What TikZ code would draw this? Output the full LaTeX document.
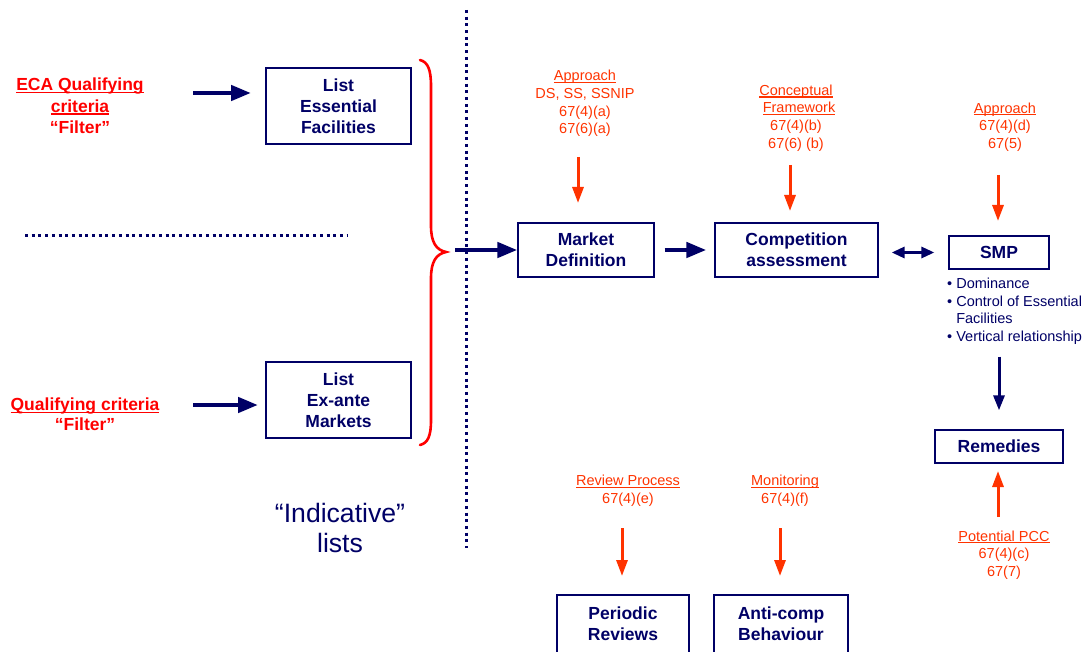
\documentclass[tikz,border=0pt]{standalone}
\usepackage{fontspec}
\setmainfont{Liberation Sans}
\usetikzlibrary{arrows.meta}
\definecolor{navy}{RGB}{0,0,102}
\definecolor{ored}{RGB}{255,51,0}
\definecolor{bred}{RGB}{255,0,0}
\newcommand\myul[1]{\setbox0\hbox{#1}\rlap{\rule[-2.3pt]{\wd0}{1.1pt}}\box0}
\begin{document}
\begin{tikzpicture}[x=1pt,y=-1pt,
  box/.style={draw=navy, line width=1.3pt, fill=white, text=navy, align=center, inner sep=0pt,
    font=\fontsize{17.5}{21}\selectfont\bfseries},
  otxt/.style={text=ored, align=center, inner sep=0pt, font=\fontsize{14.5}{17.7}\selectfont},
  rtxt/.style={text=bred, align=center, inner sep=0pt, font=\fontsize{17.5}{21.5}\selectfont\bfseries},
  narrow/.style={draw=navy, line width=4.5pt, -{Triangle[length=20pt,width=15pt]}},
  nthin/.style={draw=navy, line width=3pt, -{Triangle[length=15pt,width=11pt]}},
  ndbl/.style={draw=navy, line width=3pt, {Triangle[length=13pt,width=11pt]}-{Triangle[length=13pt,width=11pt]}},
  oarrow/.style={draw=ored, line width=3pt, -{Triangle[length=16pt,width=11pt]}},
  dotline/.style={draw=navy, line width=3pt, dash pattern=on 3pt off 3.7pt}]
\useasboundingbox (0,0) rectangle (1089,652);

% dotted separators
\draw[dotline] (466,10) -- (466,548);
\draw[dotline] (25,236) -- (347,236);

% left column
\node[rtxt] (eca) at (80,106) {\myul{ECA Qualifying}\\\myul{criteria}\\“Filter”};
\node[rtxt, font=\fontsize{17.5}{19.5}\selectfont\bfseries] (qual) at (85,414) {\myul{Qualifying criteria}\\“Filter”};
\node[box, minimum width=145pt, minimum height=76pt] (ef) at (338.5,106) {List\\Essential\\Facilities};
\node[box, minimum width=145pt, minimum height=76pt] (em) at (338.5,400) {List\\Ex-ante\\Markets};
\node[text=navy, align=center, inner sep=0pt, font=\fontsize{26.6}{30}\selectfont] (ind) at (340,528) {“Indicative”\\lists};

\coordinate (ecaA) at (193,93);
\coordinate (ecaB) at (251,93);
\coordinate (qualA) at (193,405);
\coordinate (qualB) at (258,405);
\draw[narrow] (ecaA) -- (ecaB);
\draw[narrow] (qualA) -- (qualB);

% red brace
\draw[bred, line width=2.6pt, line cap=round]
  (420,60) .. controls (428,62) and (431,70) .. (431,86)
  -- (431,226) .. controls (431,242) and (436,250) .. (446,252)
  .. controls (436,254) and (431,262) .. (431,278)
  -- (431,420) .. controls (431,436) and (428,443) .. (420,445);
\coordinate (braceA) at (455,250);

% main flow
\node[box, minimum width=136pt, minimum height=54pt] (md) at (586,250) {Market\\Definition};
\node[box, minimum width=163pt, minimum height=54pt] (ca) at (796.5,250) {Competition\\assessment};
\node[box, minimum width=100pt, minimum height=33pt] (smp) at (999,252.5) {SMP};
\node[box, minimum width=128pt, minimum height=33pt] (rem) at (999,446.5) {Remedies};
\node[box, minimum width=132pt, minimum height=58pt] (pr) at (623,624) {Periodic\\Reviews};
\node[box, minimum width=134pt, minimum height=58pt] (ac) at (781,624) {Anti-comp\\Behaviour};

\draw[narrow] (braceA) -- (md.west);
\draw[narrow, shorten <=10pt, shorten >=8pt] (md.east) -- (ca.west);
\draw[ndbl, shorten <=13pt, shorten >=14pt] (ca.east |- smp) -- (smp.west);
\draw[nthin, shorten <=87pt, shorten >=19pt] (smp.south) -- (rem.north);

% bullets
\node[anchor=north west, text=navy, align=left, inner sep=0pt,
  font=\fontsize{14.5}{17.6}\selectfont] (bul) at (947,278)
  {• Dominance\\• Control of Essential\\\phantom{• }Facilities\\• Vertical relationship};

% orange annotations
\node[otxt] (app1) at (585,103.5) {\myul{Approach}\\DS, SS, SSNIP\\67(4)(a)\\67(6)(a)};
\node[otxt] (cf) at (796,118) {\myul{Conceptual}\\\hspace*{6pt}\myul{Framework}\\67(4)(b)\\67(6) (b)};
\node[otxt] (app2) at (1005,127) {\myul{Approach}\\67(4)(d)\\67(5)};
\node[otxt] (rp) at (628,491) {\myul{Review Process}\\67(4)(e)};
\node[otxt] (mon) at (785,491) {\myul{Monitoring}\\67(4)(f)};
\node[otxt] (pcc) at (1004,555) {\myul{Potential PCC}\\67(4)(c)\\67(7)};

\coordinate (o1a) at (578,157); \coordinate (o1b) at (578,203);
\coordinate (o2a) at (790,165); \coordinate (o2b) at (790,211);
\coordinate (o3a) at (998,175); \coordinate (o3b) at (998,221);
\coordinate (o4a) at (622,528); \coordinate (o4b) at (622,576);
\coordinate (o5a) at (780,528); \coordinate (o5b) at (780,576);
\coordinate (o6a) at (998,517); \coordinate (o6b) at (998,471);
\draw[oarrow] (o1a) -- (o1b);
\draw[oarrow] (o2a) -- (o2b);
\draw[oarrow] (o3a) -- (o3b);
\draw[oarrow] (o4a) -- (o4b);
\draw[oarrow] (o5a) -- (o5b);
\draw[oarrow] (o6a) -- (o6b);
\end{tikzpicture}
\end{document}
